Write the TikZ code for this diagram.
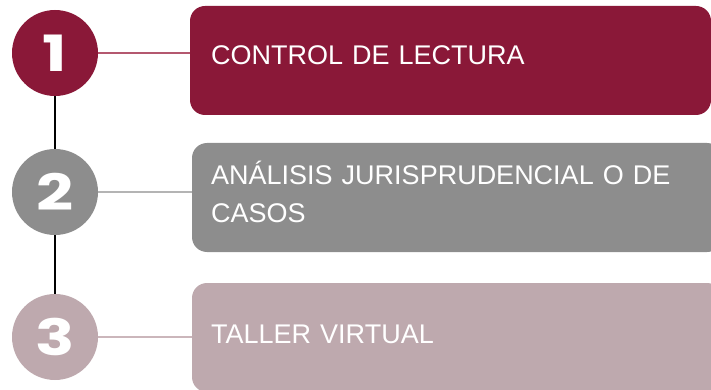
\documentclass[tikz,border=0pt]{standalone}
\usepackage{fontspec}
\setmainfont{Liberation Sans}
\newfontfamily\numfont{Poppins}
\definecolor{vino}{HTML}{8A1838}
\definecolor{gris}{HTML}{8D8D8D}
\definecolor{malva}{HTML}{BEA9AE}
\definecolor{vinoclaro}{HTML}{B4586F}
\definecolor{grisclaro}{HTML}{B4B4B4}
\definecolor{malvaclaro}{HTML}{CBB6BB}
\begin{document}
\begin{tikzpicture}[x = 1pt, y = -1pt,
  paso/.style = {circle, minimum size = 86pt, inner sep = 0pt, text = white,
    font = \numfont\bfseries\fontsize{50}{50}\selectfont},
  caja/.style = {rounded corners = 15pt, minimum height = 109pt, inner sep = 0pt},
  texto/.style = {anchor = base west, inner sep = 0pt, text = white, text width = 480pt,
    align = left, font = \fontsize{27}{38}\selectfont}]

\useasboundingbox (0,0) rectangle (711,390);

\node[paso, fill = vino] (c1) at (55,53) {\scalebox{1.3}[1]{1}};
\node[paso, fill = gris] (c2) at (55,192) {\scalebox{1.3}[1]{2}};
\node[paso, fill = malva] (c3) at (55,337) {\scalebox{1.3}[1]{3}};

\node[caja, fill = vino, minimum width = 521pt] (b1) at (450.5,60.5) {};
\node[caja, fill = gris, minimum width = 530pt] (b2) at (457,197.5) {};
\node[caja, fill = malva, minimum width = 530pt] (b3) at (457,337.5) {};

\node[texto] (t1) at (211,65) {CONTROL DE LECTURA};
\node[texto] (t2) at (211,184) {ANÁLISIS JURISPRUDENCIAL O DE CASOS};
\node[texto] (t3) at (211,343) {TALLER VIRTUAL};

\draw[line width = 2pt] (c1) -- (c2);
\draw[line width = 2pt] (c2) -- (c3);
\draw[line width = 2.5pt, vinoclaro] (c1.east) -- (c1.east -| b1.west);
\draw[line width = 2.5pt, grisclaro] (c2.east) -- (c2.east -| b2.west);
\draw[line width = 2.5pt, malvaclaro] (c3.east) -- (c3.east -| b3.west);

\end{tikzpicture}
\end{document}
